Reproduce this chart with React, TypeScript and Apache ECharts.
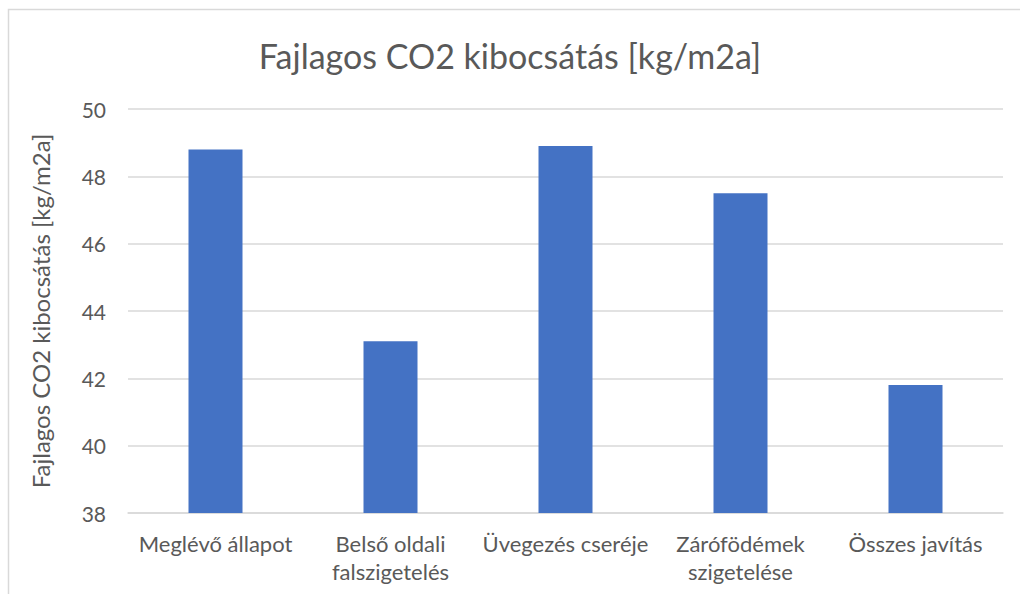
import React, { useEffect, useRef } from "react";
import * as echarts from "echarts";

const categories = [
  "Meglévő állapot",
  "Belső oldali\nfalszigetelés",
  "Üvegezés cseréje",
  "Zárófödémek\nszigetelése",
  "Összes javítás",
];
const values = [48.8, 43.1, 48.9, 47.5, 41.8];
const yMin = 38;
const yMax = 50;
const yInterval = 2;

const FONT = "Lato, 'Open Sans', sans-serif";
const TXT = "#595959";

export default function App() {
  const ref = useRef<HTMLDivElement>(null);
  useEffect(() => {
    if (!ref.current) return;
    const chart = echarts.init(ref.current, undefined, { renderer: "svg" });
    chart.setOption({
      animation: false,
      backgroundColor: "#ffffff",
      title: {
        text: "Fajlagos CO2 kibocsátás [kg/m2a]",
        left: "center",
        top: 33,
        textStyle: { fontFamily: FONT, fontSize: 34, fontWeight: "normal", color: TXT },
      },
      graphic: [
        {
          type: "rect",
          shape: { x: 8.5, y: 9.5, width: 1100, height: 700 },
          style: { fill: "none", stroke: "#d9d9d9", lineWidth: 1.5 },
          silent: true,
        },
      ],
      grid: { left: 128, right: 17, top: 109, bottom: 81, containLabel: false },
      xAxis: {
        type: "category",
        data: categories,
        axisLine: { show: true, lineStyle: { color: "#d9d9d9", width: 1.5 } },
        axisTick: { show: false },
        axisLabel: {
          fontFamily: FONT,
          fontSize: 22,
          color: TXT,
          margin: 16,
          lineHeight: 28,
          interval: 0,
        },
      },
      yAxis: {
        type: "value",
        min: yMin,
        max: yMax,
        interval: yInterval,
        name: "Fajlagos CO2 kibocsátás [kg/m2a]",
        nameLocation: "middle",
        nameGap: 76,
        nameTextStyle: { fontFamily: FONT, fontSize: 24, color: TXT },
        axisLine: { show: false },
        axisTick: { show: false },
        splitLine: { lineStyle: { color: "#d9d9d9", width: 1.5 } },
        axisLabel: { fontFamily: FONT, fontSize: 21, color: TXT, margin: 22 },
      },
      series: [
        {
          type: "bar",
          data: values,
          barWidth: 54,
          itemStyle: { color: "#4472C4" },
        },
      ],
    });
    return () => chart.dispose();
  }, []);
  return (
    <div
      ref={ref}
      style={{ position: "absolute", left: 0, top: 0, width: 1020, height: 594 }}
    />
  );
}
